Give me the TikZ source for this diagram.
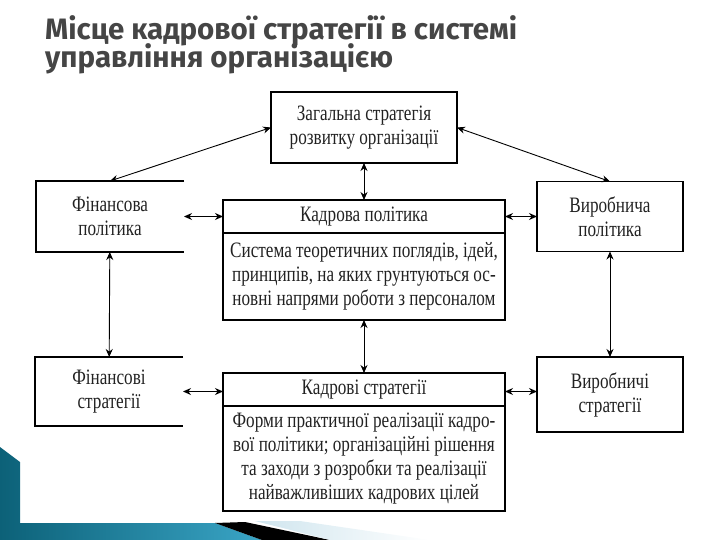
\documentclass[tikz,border=0pt]{standalone}
\usepackage{fontspec}
\setmainfont{Liberation Serif}[FakeStretch=0.78]
\newfontfamily\titlefont{Fira Sans}
\usetikzlibrary{arrows.meta,positioning}
\definecolor{titlegray}{HTML}{454545}
\definecolor{inkgray}{HTML}{222222}
\definecolor{tealdark}{HTML}{0C6178}
\definecolor{teallight}{HTML}{3AA5C6}
\definecolor{paleblue}{HTML}{CFE5EE}

\begin{document}
\begin{tikzpicture}[
    x=1pt, y=-1pt,
    box/.style={draw, line width=1.1pt, outer sep=0pt, inner sep=2pt, align=center, text=inkgray, font=\fontsize{22}{24}\selectfont},
    openbox/.style={box, draw=none},
    frame/.style={line width=1.1pt},
    heading/.style={anchor=base west, inner sep=0pt, text=titlegray, font=\titlefont\bfseries\fontsize{29.5}{30}\selectfont},
    link/.style={{Stealth[length=8pt,width=7pt]}-{Stealth[length=8pt,width=7pt]}, line width=0.9pt}
]
\useasboundingbox (0,0) rectangle (720,540);

% slide decoration
\shade[left color=tealdark, right color=teallight] (0,447) -- (20,462) -- (20,523) -- (215,523) -- (262,540) -- (0,540) -- cycle;
\fill[black] (215,523) -- (245,522) -- (330,540) -- (262,540) -- cycle;
\shade[left color=paleblue, right color=white] (255,521) -- (300,521) -- (430,540) -- (330,540) -- cycle;

\node[heading] (title1) at (45,40) {Місце кадрової стратегії в системі};
\node[heading] (title2) at (45,68) {управління організацією};

\node[box, minimum width=282pt, minimum height=33pt] (polhead) at (364,216.5) {Кадрова політика};
\node[box, below=0pt of polhead, minimum width=282pt, minimum height=87pt] (polbody) {Система теоретичних поглядів, ідей,\\принципів, на яких грунтуються ос-\\новні напрями роботи з персоналом};
\node[box, above=37pt of polhead, minimum width=186pt, minimum height=71pt] (goal) {Загальна стратегія\\розвитку організації};
\node[box, below=53pt of polbody, minimum width=282pt, minimum height=33pt] (khead) {Кадрові стратегії};
\node[box, below=0pt of khead, minimum width=282pt, minimum height=105pt] (kbody) {Форми практичної реалізації кадро-\\вої політики; організаційні рішення\\та заходи з розробки та реалізації\\найважливіших кадрових цілей};
\node[openbox, left=39pt of polhead, minimum width=148pt, minimum height=71pt] (finpol) {Фінансова\\політика};
\node[box, right=32pt of polhead, minimum width=146pt, minimum height=70pt] (virpol) {Виробнича\\політика};
\node[openbox, left=40pt of khead, yshift=-2pt, minimum width=148pt, minimum height=69pt] (finstr) {Фінансові\\стратегії};
\node[box, right=32pt of khead, yshift=-5pt, minimum width=146pt, minimum height=75pt] (virstr) {Виробничі\\стратегії};

\draw[frame] (finpol.north east) -| (finpol.south west) -- (finpol.south east);
\draw[frame] (finstr.north east) -| (finstr.south west) -- (finstr.south east);

\draw[link] (goal.west) -- (finpol.north);
\draw[link] (goal.east) -- (virpol.north);
\draw[link] (goal) -- (polhead);
\draw[link] (polbody) -- (khead);
\draw[link] (finpol) -- (finstr);
\draw[link] (virpol) -- (virstr);
\draw[link] (finpol) -- (polhead);
\draw[link] (polhead) -- (virpol);
\draw[link] (finstr.east) -- (finstr.east -| khead.west);
\draw[link] (khead.east |- finstr.east) -- (khead.east |- finstr.east -| virstr.west);
\end{tikzpicture}
\end{document}
